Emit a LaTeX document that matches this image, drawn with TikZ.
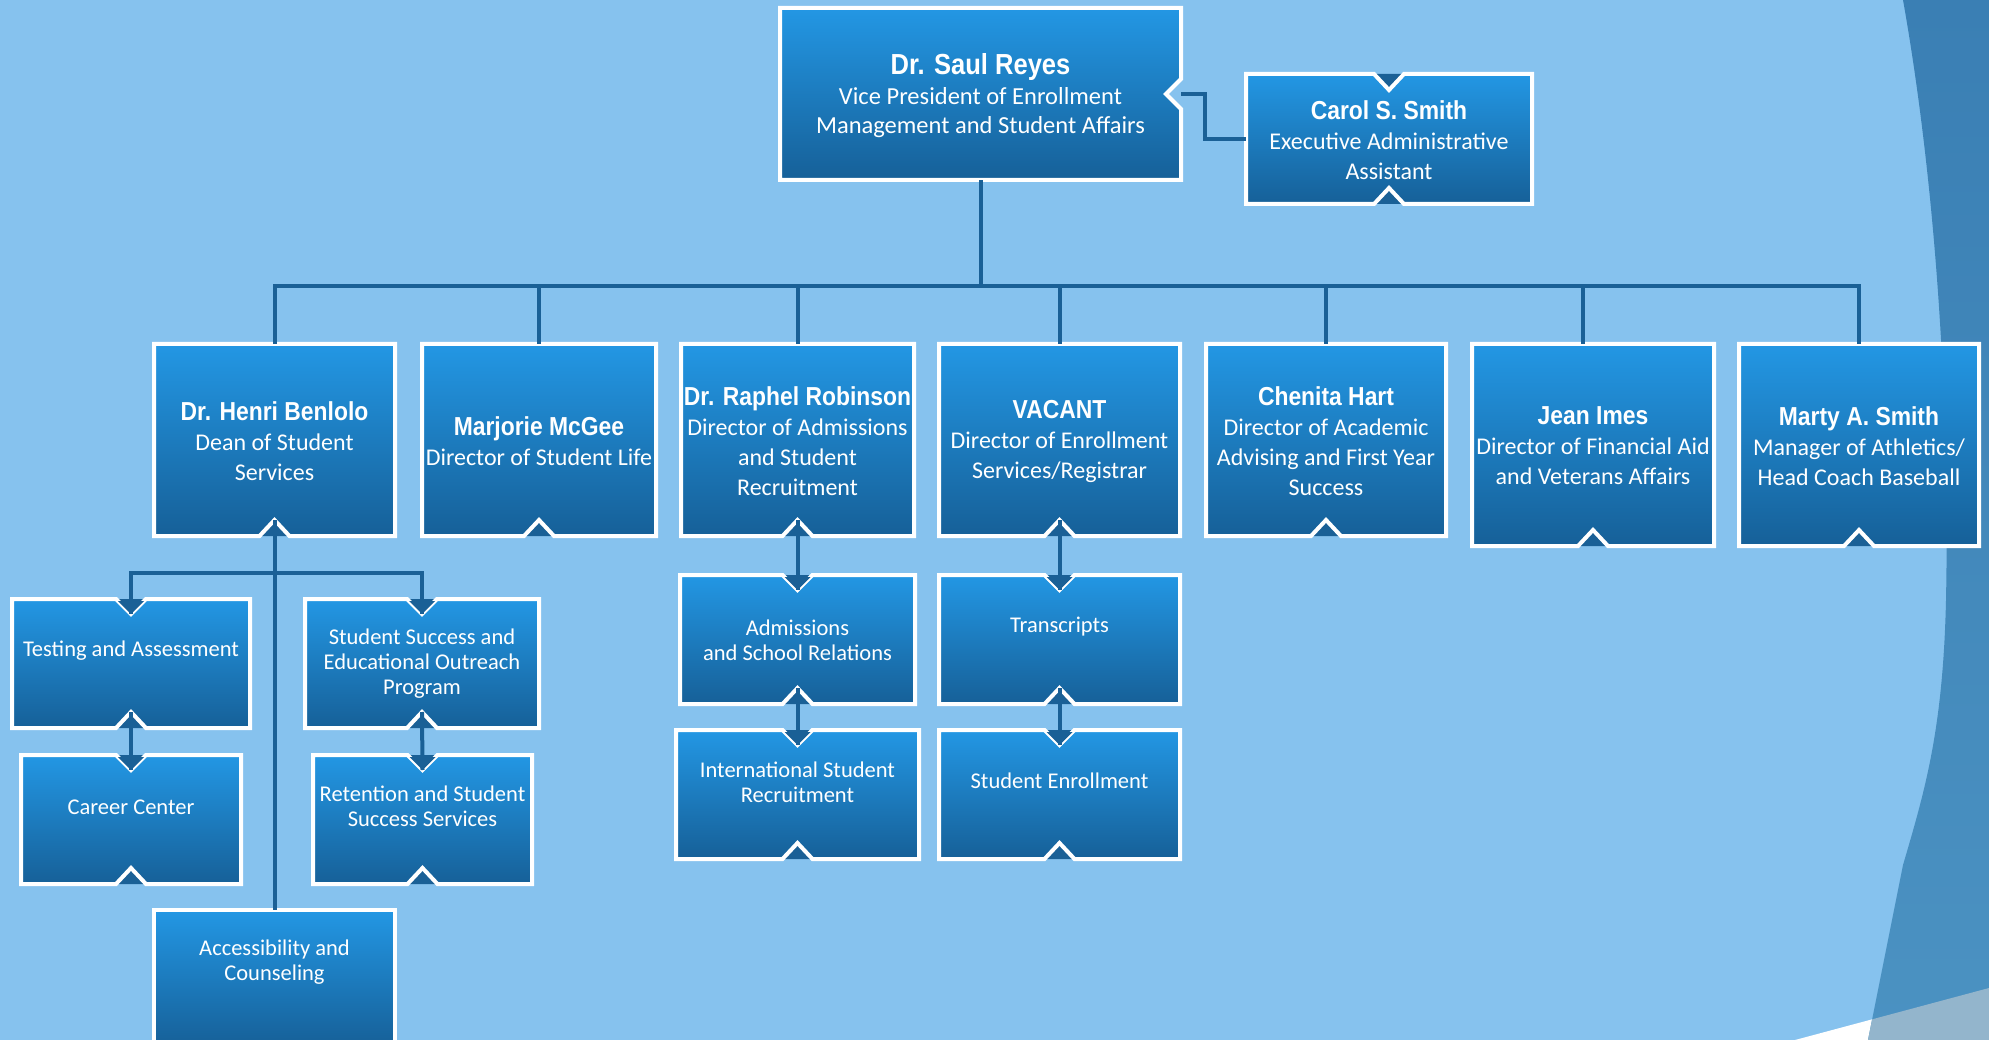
\documentclass[tikz,border=0pt]{standalone}
\usepackage{fontspec}
\usetikzlibrary{calc}
\setmainfont{Carlito}
\newfontfamily\nmfont[FakeStretch=0.88]{Liberation Sans Bold}
\definecolor{bgcol}{RGB}{134,194,238}
\definecolor{boxtop}{RGB}{35,151,228}
\definecolor{boxbot}{RGB}{22,96,152}
\definecolor{conncol}{RGB}{26,96,150}
\definecolor{darkrA}{RGB}{58,127,180}
\definecolor{darkrB}{RGB}{75,146,194}
\definecolor{grayb}{RGB}{147,181,204}
\newcommand\NmA{\nmfont\fontsize{29}{30}\selectfont}
\newcommand\NmB{\nmfont\fontsize{26}{30}\selectfont}
\newcommand\SbA{\fontsize{24.5}{29.5}\selectfont}
\newcommand\SbB{\fontsize{24}{30}\selectfont}
\newcommand\SbC{\fontsize{22.5}{25}\selectfont}
\tikzset{
  connline/.style={draw=conncol, line width=4pt},
  boxedge/.style={draw=white, line width=4pt},
  boxanchor/.style={inner sep=0pt, draw=none},
  lvlA/.style={text=white, align=center, inner sep=0pt, font=\SbA},
  lvlB/.style={text=white, align=center, inner sep=0pt, font=\SbB},
  lvlC/.style={text=white, align=center, inner sep=0pt, font=\SbC},
}
% #1 name, #2 left, #3 top, #4 right, #5 bottom, #6 top notch depth, #7 bottom notch depth
\newcommand\obox[7]{%
  \pgfmathsetmacro\bxC{(#2+#4)/2}%
  \pgfmathsetmacro\bxL{#2+2}\pgfmathsetmacro\bxT{#3+2}%
  \pgfmathsetmacro\bxR{#4-2}\pgfmathsetmacro\bxB{#5-2}%
  \pgfmathsetmacro\bxNl{\bxC-15}\pgfmathsetmacro\bxNr{\bxC+15}%
  \pgfmathsetmacro\bxNt{\bxT+#6}\pgfmathsetmacro\bxNb{\bxB-#7}%
  \pgfmathsetmacro\bxW{#4-#2-4}\pgfmathsetmacro\bxH{#5-#3-4}%
  \pgfmathsetmacro\bxM{(#3+#5)/2}%
  \shade[top color=boxtop, bottom color=boxbot]
    (\bxL,\bxT) -- (\bxNl,\bxT) -- (\bxC,\bxNt) -- (\bxNr,\bxT) -- (\bxR,\bxT)
    -- (\bxR,\bxB) -- (\bxNr,\bxB) -- (\bxC,\bxNb) -- (\bxNl,\bxB) -- (\bxL,\bxB) -- cycle;
  \fill[conncol] (\bxNl,\bxT) -- (\bxC,\bxNt) -- (\bxNr,\bxT) -- cycle;
  \fill[conncol] (\bxNl,\bxB) -- (\bxC,\bxNb) -- (\bxNr,\bxB) -- cycle;
  \draw[boxedge]
    (\bxL,\bxT) -- (\bxNl,\bxT) -- (\bxC,\bxNt) -- (\bxNr,\bxT) -- (\bxR,\bxT)
    -- (\bxR,\bxB) -- (\bxNr,\bxB) -- (\bxC,\bxNb) -- (\bxNl,\bxB) -- (\bxL,\bxB) -- cycle;
  \node[boxanchor, minimum width=\bxW pt, minimum height=\bxH pt] (#1) at (\bxC,\bxM) {};
  \coordinate (#1-tn) at (\bxC,\bxNt);
  \coordinate (#1-bn) at (\bxC,\bxNb);
}
\begin{document}
\begin{tikzpicture}[x=1pt,y=-1pt, line join=miter]
\useasboundingbox (0,0) rectangle (1989,1040);
\clip (0,0) rectangle (1989,1040);
% background
\fill[bgcol] (0,0) rectangle (1989,1040);
\fill[white] (1795,1040) -- (1989,988) -- (1989,1040) -- cycle;
\shade[top color=darkrA, bottom color=darkrB]
  (1903,0) .. controls (1935,180) and (1950,400) .. (1946,600)
  .. controls (1943,730) and (1925,790) .. (1903,865) -- (1868,1040)
  -- (1989,1040) -- (1989,0) -- cycle;
\begin{scope}
  \clip (1795,1040) -- (1989,988) -- (1989,1040) -- cycle;
  \fill[grayb]
  (1903,0) .. controls (1935,180) and (1950,400) .. (1946,600)
  .. controls (1943,730) and (1925,790) .. (1903,865) -- (1868,1040)
  -- (1989,1040) -- (1989,0) -- cycle;
\end{scope}

% ---------- boxes ----------
% VP with a notch on its right side
\shade[top color=boxtop, bottom color=boxbot]
  (780,8) -- (1181,8) -- (1181,79) -- (1166,94) -- (1181,109) -- (1181,180) -- (780,180) -- cycle;
\draw[boxedge]
  (780,8) -- (1181,8) -- (1181,79) -- (1166,94) -- (1181,109) -- (1181,180) -- (780,180) -- cycle;
\node[boxanchor, minimum width=401pt, minimum height=172pt] (vp) at (980.5,94) {};
\coordinate (vpr) at (1181,94);

\obox{carol}{1244}{72}{1534}{206}{16}{16}
\obox{benlolo}{152}{342}{397}{538}{0}{16}
\obox{mcgee}{420}{342}{658}{538}{0}{16}
\obox{robinson}{679}{342}{916}{538}{0}{16}
\obox{vacant}{937}{342}{1182}{538}{0}{16}
\obox{hart}{1204}{342}{1448}{538}{0}{16}
\obox{imes}{1470}{342}{1716}{548}{0}{16}
\obox{marty}{1737}{342}{1981}{548}{0}{16}
\obox{testing}{10}{597}{252}{730}{15}{16}
\obox{sseop}{303}{597}{541}{730}{15}{16}
\obox{career}{19}{753}{243}{886}{15}{16}
\obox{retention}{311}{753}{534}{886}{15}{16}
\obox{acc}{152}{908}{397}{1048}{0}{0}
\obox{asr}{678}{573}{917}{706}{15}{16}
\obox{isr}{674}{728}{921}{861}{15}{16}
\obox{transcripts}{937}{573}{1182}{706}{15}{16}
\obox{senr}{937}{728}{1182}{861}{15}{16}

% ---------- connectors ----------
\coordinate (busL) at (274.5,286);
\coordinate (cj) at (1205,94);
\coordinate (imesj) at (1583,286);
\coordinate (dj) at (274.5,573);
\draw[connline] (vp.south) -- (vp.south |- busL);
\draw[connline] (benlolo.north) -- (benlolo.north |- busL) -- (marty.north |- busL) -- (marty.north);
\draw[connline] (mcgee.north |- busL) -- (mcgee.north);
\draw[connline] (robinson.north |- busL) -- (robinson.north);
\draw[connline] (vacant.north |- busL) -- (vacant.north);
\draw[connline] (hart.north |- busL) -- (hart.north);
\draw[connline] (imesj) -- (imesj |- imes.north);
\draw[connline] (carol.west) -| (cj) -- (vpr);
\draw[connline] (benlolo-bn) -- (acc.north);
\draw[connline] (testing-tn) -- (testing-tn |- dj) -- (sseop-tn |- dj) -- (sseop-tn);
\draw[connline] (testing-bn) -- (career-tn);
\draw[connline] (sseop-bn) -- (retention-tn);
\draw[connline] (robinson-bn) -- (asr-tn);
\draw[connline] (asr-bn) -- (isr-tn);
\draw[connline] (vacant-bn) -- (transcripts-tn);
\draw[connline] (transcripts-bn) -- (senr-tn);
% redraw notch triangles on top of the lines' ends
\foreach \n in {testing,sseop,career,retention,asr,isr,transcripts,senr}{
  \fill[conncol] ($(\n-tn)+(-13,-13)$) -- (\n-tn) -- ($(\n-tn)+(13,-13)$) -- cycle;
}

% ---------- texts ----------
\node[lvlA] (vp-txt) at (980.5,96) {{\NmA Dr. Saul Reyes}\\Vice President of Enrollment\\Management and Student Affairs};
\node[lvlB] (carol-txt) at (1389,140) {{\NmB Carol S. Smith}\\Executive Administrative\\Assistant};
\node[lvlB] (benlolo-txt) at (274.5,441) {{\NmB Dr. Henri Benlolo}\\Dean of Student\\Services};
\node[lvlB] (mcgee-txt) at (539,441) {{\NmB Marjorie McGee}\\Director of Student Life};
\node[lvlB] (robinson-txt) at (797.5,441) {{\NmB Dr. Raphel Robinson}\\Director of Admissions\\and Student\\Recruitment};
\node[lvlB] (vacant-txt) at (1059.5,441) {{\NmB VACANT}\\Director of Enrollment\\Services/Registrar};
\node[lvlB] (hart-txt) at (1326,441) {{\NmB Chenita Hart}\\Director of Academic\\Advising and First Year\\Success};
\node[lvlB] (imes-txt) at (1593,446) {{\NmB Jean Imes}\\Director of Financial Aid\\and Veterans Affairs};
\node[lvlB] (marty-txt) at (1859,446) {{\NmB Marty A. Smith}\\Manager of Athletics/\\Head Coach Baseball};
\node[lvlC] (testing-txt) at (131,651) {Testing and Assessment};
\node[lvlC] (sseop-txt) at (422,664) {Student Success and\\Educational Outreach\\Program};
\node[lvlC] (career-txt) at (131,807) {Career Center};
\node[lvlC] (retention-txt) at (422.5,806) {Retention and Student\\Success Services};
\node[lvlC] (acc-txt) at (274.5,962) {Accessibility and\\Counseling};
\node[lvlC] (asr-txt) at (797.5,640) {Admissions\\and School Relations};
\node[lvlC] (transcripts-txt) at (1059.5,627) {Transcripts};
\node[lvlC] (isr-txt) at (797.5,782) {International Student\\Recruitment};
\node[lvlC] (senr-txt) at (1059.5,781) {Student Enrollment};
\end{tikzpicture}
\end{document}
